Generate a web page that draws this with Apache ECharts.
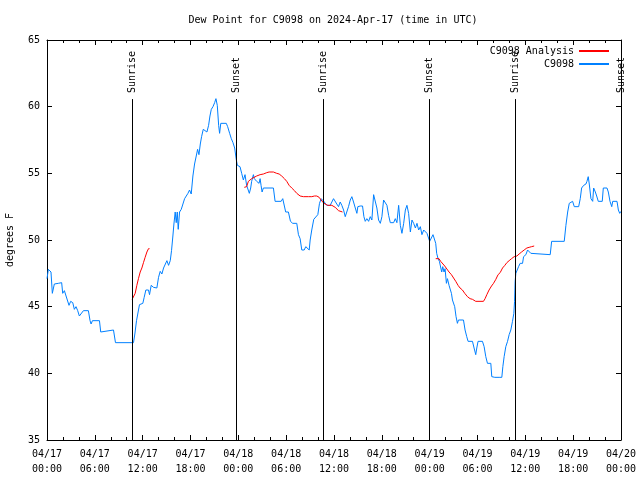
<!DOCTYPE html>
<html>
<head>
<meta charset="utf-8">
<script src="https://cdn.jsdelivr.net/npm/echarts@6/dist/echarts.min.js"></script>
<style>html,body{margin:0;padding:0;background:#fff}#c{width:640px;height:480px}</style>
</head>
<body>
<div id="c"></div>
<script>
// Hours since 2024-04-17 00:00 UTC
var obsHours = [0.0,0.17,0.38,0.5,0.67,0.8,0.92,1.09,1.42,1.84,1.97,2.18,2.39,2.6,2.76,2.97,3.23,3.43,3.64,3.85,4.06,4.27,4.57,5.19,5.4,5.53,5.7,6.58,6.74,6.95,8.34,8.59,10.85,11.02,11.23,11.43,11.6,12.02,12.19,12.4,12.73,12.86,13.07,13.36,13.57,13.78,13.99,14.2,14.41,14.62,14.87,15.04,15.25,15.46,15.62,15.79,15.92,16.08,16.21,16.34,16.46,16.63,16.84,17.05,17.26,17.47,17.68,17.88,18.09,18.3,18.51,18.72,18.89,19.06,19.23,19.39,19.6,19.77,20.06,20.27,20.44,20.61,20.82,21.03,21.19,21.36,21.53,21.65,21.8,22.49,22.66,22.91,23.12,23.33,23.54,23.75,23.88,
24.21,24.42,24.63,24.84,25.04,25.26,25.38,25.55,25.67,25.89,26.01,26.18,26.30,26.43,26.60,26.73,26.85,26.98,27.14,28.40,28.61,29.37,29.57,29.78,29.94,30.28,30.54,30.82,31.33,31.54,31.75,31.96,32.26,32.46,32.71,32.89,33.01,33.21,33.46,33.71,33.97,34.18,34.39,34.56,34.72,34.93,35.09,
35.31,35.52,35.73,35.94,36.15,36.35,36.57,36.78,36.98,37.20,37.41,37.61,37.82,38.04,38.24,38.45,38.67,38.87,38.99,39.29,39.58,39.75,39.92,40.12,40.34,40.55,40.75,40.97,41.18,41.38,41.59,41.81,42.01,42.22,42.44,42.64,42.85,43.06,43.48,43.69,43.89,44.11,44.32,44.52,44.74,44.95,45.15,45.36,45.58,45.78,45.99,46.21,46.41,46.62,46.83,47.03,47.25,47.46,47.66,47.88,48.0,48.21,48.42,48.63,48.76,48.88,49.05,49.22,49.38,49.51,49.64,49.80,49.93,50.10,50.23,50.43,50.55,50.73,50.86,50.98,51.14,51.31,51.48,51.61,52.24,52.44,52.65,52.82,53.37,53.57,53.78,53.91,54.07,54.62,54.83,55.04,55.25,55.67,55.79,56.17,56.71,56.92,57.05,57.18,57.34,57.55,57.77,57.97,58.18,58.39,58.56,58.65,58.72,58.81,59.02,59.15,59.35,59.65,59.78,60.07,60.28,60.48,60.69,60.91,63.12,63.30,64.88,65.09,65.31,65.51,65.72,65.93,66.14,66.69,66.89,67.06,67.32,67.60,67.73,67.89,68.02,68.23,68.45,68.57,68.78,68.95,69.15,69.65,69.78,70.24,70.41,70.62,70.84,70.96,71.50,71.67,71.84,72.0];
var obsValues = [47.1,47.8,47.75,47.6,46.0,45.9,46.7,46.8,46.75,46.8,46.0,46.2,45.8,45.7,45.1,45.4,45.3,44.8,45.0,44.7,44.3,44.3,44.7,44.7,43.95,43.7,43.95,43.95,43.1,43.25,43.25,42.3,42.3,42.95,43.95,44.6,45.15,45.25,45.7,46.25,46.25,45.9,46.6,46.45,46.6,46.4,47.2,47.65,47.45,47.9,48.0,48.45,48.1,48.45,49.2,50.3,51.2,52.1,51.3,52.1,50.8,52.1,52.3,52.7,53.1,53.2,53.5,53.75,53.45,54.8,55.7,56.3,56.8,56.4,57.2,57.75,58.3,58.2,58.1,58.6,59.3,59.8,60.0,60.3,60.6,60.1,58.6,58.0,58.75,58.75,58.5,58.0,57.6,57.3,56.9,56.0,55.6,
55.5,55.0,54.5,54.9,54.1,54.25,53.5,53.9,54.4,54.9,54.6,54.75,54.4,54.5,54.25,54.6,54.1,53.6,53.9,53.9,52.9,52.9,53.1,53.1,52.1,52.1,51.4,51.25,51.25,50.4,50.1,49.25,49.25,49.5,49.5,49.25,50.0,50.75,51.55,51.55,51.9,52.75,53.1,53.25,52.9,52.85,52.6,
52.7,52.6,52.85,53.1,53.2,52.7,52.5,52.85,52.6,52.25,51.75,51.85,52.5,53.0,53.25,52.85,52.4,52.0,52.5,52.55,52.55,51.75,51.4,51.6,51.4,51.75,51.5,53.4,53.4,52.4,51.5,51.25,51.75,53.0,52.85,52.6,51.85,51.3,51.3,51.6,51.3,52.6,51.1,50.5,51.25,52.25,52.6,52.0,50.6,51.5,51.25,50.9,51.25,50.75,51.0,50.4,50.75,50.9,50.5,50.4,49.9,49.75,50.4,50.4,49.75,49.0,48.6,48.4,48.25,47.6,48.0,47.6,47.85,46.75,47.1,46.6,46.75,46.0,45.5,45.6,45.0,44.25,43.75,44.0,44.0,43.25,42.75,42.4,42.4,41.9,41.4,41.9,42.4,42.4,42.0,41.25,40.75,40.75,39.75,39.7,39.7,39.75,39.7,40.5,41.25,42.0,42.4,42.9,43.25,43.9,44.5,45.4,46.9,47.5,47.6,48.0,48.25,48.25,48.75,48.9,49.25,49.25,49.0,48.9,48.9,49.9,49.9,51.1,52.1,52.75,52.9,52.9,52.5,52.5,53.1,53.9,54.1,54.2,54.4,54.75,54.2,53.1,52.9,53.9,53.6,53.3,52.9,52.9,53.9,53.9,53.6,52.9,52.5,52.9,52.9,52.25,52.0,52.15];

// Analysis series (null separates segments)
var anaHours = [10.68,10.85,11.06,11.27,11.47,11.69,11.90,12.10,12.31,12.53,12.73,12.86,
  18.0,
  24.75,25.04,25.26,25.47,25.67,25.89,26.30,26.73,27.14,27.56,27.86,28.40,28.81,29.12,29.44,29.78,30.07,30.37,30.70,31.04,31.33,31.75,32.17,32.80,33.21,33.55,33.84,34.14,34.37,34.56,34.74,34.93,35.22,35.73,35.94,36.15,36.35,36.57,36.78,37.07,
  42.0,
  48.76,49.17,49.38,49.60,49.89,50.14,50.43,50.73,50.98,51.27,51.56,51.81,52.11,52.40,52.74,53.07,53.37,53.78,54.75,54.95,55.17,55.45,55.76,56.01,56.30,56.58,56.84,57.14,57.43,57.68,57.97,58.27,58.60,58.94,59.22,59.53,59.85,60.19,60.48,60.78,61.11];
var anaValues = [45.55,45.5,46.0,46.6,47.1,47.6,47.9,48.3,48.7,49.1,49.35,49.35,
  null,
  53.95,54.0,54.4,54.55,54.6,54.75,54.8,54.9,54.95,55.05,55.1,55.1,55.0,54.95,54.8,54.6,54.4,54.1,53.9,53.7,53.5,53.3,53.25,53.25,53.25,53.3,53.3,53.2,53.0,52.9,52.75,52.7,52.6,52.6,52.55,52.45,52.3,52.2,52.15,52.1,
  null,
  48.6,48.6,48.4,48.25,48.05,47.9,47.6,47.4,47.3,46.9,46.6,46.4,46.25,46.0,45.75,45.6,45.55,45.4,45.4,45.6,45.9,46.25,46.55,46.75,47.05,47.4,47.55,47.9,48.1,48.3,48.45,48.6,48.75,48.8,48.95,49.1,49.25,49.4,49.45,49.5,49.55];

var sunHours = [10.66, 23.75, 34.56, 47.87, 58.66, 71.97];
var sunLabels = ['Sunrise', 'Sunset', 'Sunrise', 'Sunset', 'Sunrise', 'Sunset'];

var titleText = 'Dew Point for C9098 on 2024-Apr-17 (time in UTC)';
var yMin = 35, yMax = 65, yStep = 5;
var xMin = 0, xMax = 72, xStep = 6;
var dayNames = ['04/17', '04/18', '04/19', '04/20'];

var FONT = 'DejaVu Sans Mono';
var sunLineTop = 60.57;

function pairs(xs, ys) { return xs.map(function (x, i) { return [x, ys[i]]; }); }

function fmtHour(h) {
  var d = Math.floor(h / 24 + 1e-6);
  var hh = Math.round(h - d * 24);
  return dayNames[d] + '\n' + (hh < 10 ? '0' : '') + hh + ':00';
}

var chart = echarts.init(document.getElementById('c'), null, { renderer: 'canvas' });
var axisCommon = {
  type: 'value', min: xMin, max: xMax, interval: xStep,
  axisLine: { show: true, onZero: false, lineStyle: { color: '#000', width: 1 } },
  axisTick: { show: true, inside: true, length: 5, lineStyle: { color: '#000' } },
  minorTick: { show: true, splitNumber: 3, length: 3, lineStyle: { color: '#000' } },
  splitLine: { show: false }
};
var yCommon = {
  type: 'value', min: yMin, max: yMax, interval: yStep,
  axisLine: { show: true, onZero: false, lineStyle: { color: '#000', width: 1 } },
  axisTick: { show: true, inside: true, length: 5, lineStyle: { color: '#000' } },
  splitLine: { show: false }
};

chart.setOption({
  animation: false,
  backgroundColor: '#fff',
  title: {
    text: titleText, left: 333, top: 15, textAlign: 'center', padding: 0,
    textStyle: { fontFamily: FONT, fontSize: 10, fontWeight: 'normal', color: '#000' }
  },
  legend: {
    data: ['C9098 Analysis', 'C9098'],
    orient: 'vertical', right: 30, top: 46, align: 'right', padding: 0,
    itemWidth: 30, itemHeight: 11, itemGap: 3,
    itemStyle: { opacity: 0 },
    textStyle: { fontFamily: FONT, fontSize: 10, color: '#000' }
  },
  grid: { left: 47, top: 40, width: 574, height: 400, containLabel: false, outerBoundsMode: 'none' },
  xAxis: [
    Object.assign({}, axisCommon, {
      position: 'bottom',
      axisLabel: { show: true, margin: 7, fontFamily: FONT, fontSize: 10, color: '#000', lineHeight: 15,
        formatter: function (v) { return fmtHour(v); } }
    }),
    Object.assign({}, axisCommon, { position: 'top', axisLabel: { show: false } })
  ],
  yAxis: [
    Object.assign({}, yCommon, {
      position: 'left',
      name: 'degrees F', nameLocation: 'middle', nameRotate: 90, nameGap: 32,
      nameTextStyle: { fontFamily: FONT, fontSize: 10, color: '#000' },
      axisLabel: { show: true, margin: 7, fontFamily: FONT, fontSize: 10, color: '#000' }
    }),
    Object.assign({}, yCommon, { position: 'right', axisLabel: { show: false } })
  ],
  series: [
    {
      name: 'C9098 Analysis', type: 'line', data: pairs(anaHours, anaValues),
      showSymbol: false, symbol: 'none', connectNulls: false,
      lineStyle: { color: '#ff0000', width: 1 }, itemStyle: { color: '#ff0000' }, z: 3
    },
    {
      name: 'C9098', type: 'line', data: pairs(obsHours, obsValues),
      showSymbol: false, symbol: 'none',
      lineStyle: { color: '#0080ff', width: 1 }, itemStyle: { color: '#0080ff' }, z: 2
    },
    {
      name: 'sun', type: 'custom', data: sunHours.map(function (h) { return [h]; }),
      encode: { x: 0 }, clip: false, z: 4, silent: true,
      renderItem: function (params, api) {
        var h = api.value(0);
        var top = api.coord([h, sunLineTop]);
        var bot = api.coord([h, yMin]);
        var x = Math.round(top[0]) + 0.5;
        return {
          type: 'group', children: [
            { type: 'line', shape: { x1: x, y1: top[1], x2: x, y2: bot[1] }, style: { stroke: '#000', lineWidth: 1 } },
            { type: 'text', x: x, y: top[1] - 6, rotation: Math.PI / 2,
              style: { text: sunLabels[params.dataIndex], fontFamily: FONT, fontSize: 10, fill: '#000', align: 'left', verticalAlign: 'middle' } }
          ]
        };
      }
    }
  ]
});
</script>
</body>
</html>
